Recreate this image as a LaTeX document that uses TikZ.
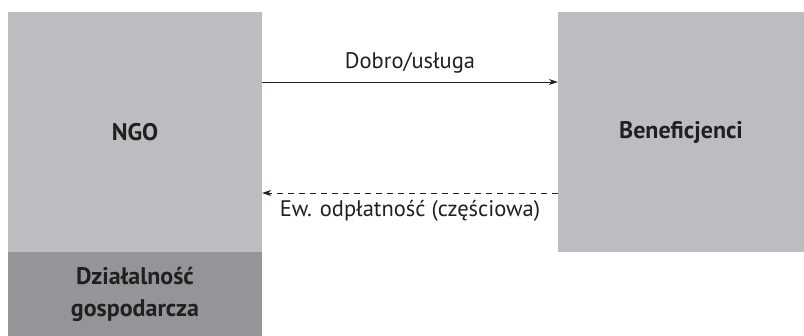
\documentclass[tikz,border=0pt]{standalone}
\usepackage{fontspec}
\setmainfont{PT Sans}
\usepackage{tikz}
\usetikzlibrary{arrows.meta, positioning}
\usepackage{xcolor}
\definecolor{boxgray}{RGB}{188, 189, 192}
\definecolor{bizgray}{RGB}{147, 149, 152}
\definecolor{inkdark}{RGB}{35, 31, 32}

\begin{document}
\begin{tikzpicture}[x=1pt, y=1pt,
    block/.style={rectangle, inner sep=0pt, text=inkdark, font=\fontsize{24}{32}\selectfont\bfseries,
                  align=center, fill=boxgray},
    arrow/.style={-{Stealth[length=9pt, width=6pt]}, line width=0.9pt, inkdark},
    label/.style={font=\fontsize{22.5}{26}\selectfont, text=inkdark}
]
\useasboundingbox (0,0) rectangle (804,336);

\node[block, minimum width=254pt, minimum height=240pt] (ngo) at (135,204) {NGO};
\node[block, fill=bizgray, minimum width=254pt, minimum height=84pt, below=0pt of ngo] (biz)
    {Działalność\\gospodarcza};
\node[block, minimum width=246pt, minimum height=240pt] (benef) at (681,204) {Beneficjenci};

\draw[arrow] ([yshift=50pt]ngo.east) -- ([yshift=50pt]benef.west)
    node[midway, above=5pt, label] {Dobro/usługa};
\draw[arrow, dashed, dash pattern=on 6pt off 5pt] ([yshift=-61pt]benef.west) -- ([yshift=-61pt]ngo.east)
    node[midway, below=4pt, label] {Ew. odpłatność (częściowa)};

\end{tikzpicture}
\end{document}
